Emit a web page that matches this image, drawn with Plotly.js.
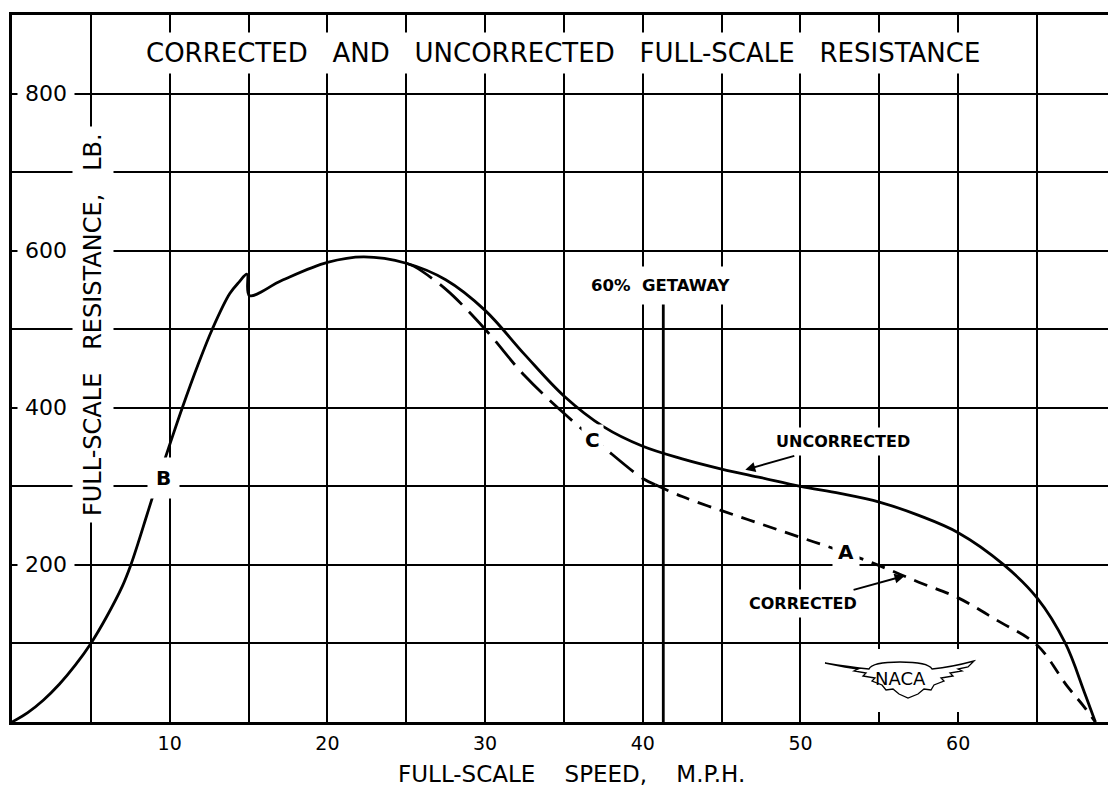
<!DOCTYPE html>
<html>
<head>
<meta charset="utf-8">
<script src="https://cdn.plot.ly/plotly-3.0.1.min.js"></script>
<style>
html,body{margin:0;padding:0;background:#fff;}
#chart{width:1108px;height:789px;}
</style>
</head>
<body>
<div id="chart"></div>
<script>
// ---- data ----
const uncorrectedSpeed = [0, 1, 2, 3, 4, 5, 6, 7, 7.5, 8, 8.5, 9, 9.5, 10, 10.8, 11.8, 12.7, 13.8, 14.4, 14.9, 15.05, 17.1, 20, 22.3, 25, 27.5, 30, 32.5, 35, 37.5, 40, 42.5, 45, 47.5, 50, 52.5, 55, 57.5, 60, 62.9, 65, 66.8, 68, 68.7];
const uncorrectedResistance = [0, 12, 28, 48, 72, 100, 134, 173, 198, 228, 260, 292, 323, 353, 400, 455, 500, 545, 560, 570, 543, 562, 585, 592, 584, 563, 524, 468, 415, 376, 351, 335, 322, 311, 300, 291, 280, 263, 241, 200, 158, 100, 38, 0];

const correctedSpeed = [25, 25.5, 27.5, 30, 32.5, 35, 37.5, 40, 40.8, 42.5, 45, 47.5, 50, 52.5, 55, 57.5, 60, 62.5, 65, 66.9, 68, 68.7];
const correctedResistance = [584, 580, 551, 500, 441, 393, 350, 310, 302, 287, 269, 252, 235, 218, 199, 178, 158, 129, 98, 46, 19, 0];

const getawaySpeed = [41.3, 41.3];
const getawayResistance = [0, 535];

const xGridSpeeds = [5, 10, 15, 20, 25, 30, 35, 40, 45, 50, 55, 60, 65];
const xTickLabels = ['', '10', '', '20', '', '30', '', '40', '', '50', '', '60', ''];
const yGridValues = [100, 200, 300, 400, 500, 600, 700, 800];
const yLabelValues = [200, 400, 600, 800];
const yLabelText = ['200', '400', '600', '800'];

// ---- geometry / style ----
const L = 12, T = 15, W = 1096, H = 707;
const X_RANGE = [0, 69.5], Y_RANGE = [0, 900];
const px2paperX = px => (px - L) / W;
const px2paperY = py => (T + H - py) / H;
const FAM = '"DejaVu Sans", "Liberation Sans", sans-serif';
const INK = '#000';
const NB = n => '\u00A0'.repeat(n);

// split corrected curve at the getaway speed (long dashes before, short after)
const splitIdx = correctedSpeed.findIndex(s => s > getawaySpeed[0]);
const corr1X = correctedSpeed.slice(0, splitIdx), corr1Y = correctedResistance.slice(0, splitIdx);
const corr2X = correctedSpeed.slice(splitIdx - 1), corr2Y = correctedResistance.slice(splitIdx - 1);

const LW = 2.8;
const traces = [
  {x: uncorrectedSpeed, y: uncorrectedResistance, type: 'scatter', mode: 'lines',
   line: {color: INK, width: LW, shape: 'spline', smoothing: 1}, hoverinfo: 'skip'},
  {x: corr1X, y: corr1Y, type: 'scatter', mode: 'lines',
   line: {color: INK, width: LW, shape: 'spline', smoothing: 1, dash: '30px,10px'}, hoverinfo: 'skip'},
  {x: corr2X, y: corr2Y, type: 'scatter', mode: 'lines',
   line: {color: INK, width: LW, shape: 'spline', smoothing: 1, dash: '14px,9px'}, hoverinfo: 'skip'},
  {x: getawaySpeed, y: getawayResistance, type: 'scatter', mode: 'lines',
   line: {color: INK, width: LW}, hoverinfo: 'skip'}
];

const annotations = [];
const C = {xanchor: 'center', yanchor: 'middle', showarrow: false};
// title inside the plot
annotations.push(Object.assign({xref: 'paper', yref: 'paper', x: px2paperX(563), y: px2paperY(53),
  text: ['CORRECTED', 'AND', 'UNCORRECTED', 'FULL-SCALE', 'RESISTANCE'].join(NB(3)),
  font: {family: FAM, size: 26, color: INK}, bgcolor: '#fff', borderpad: 5}, C));
// y tick labels (inside, white boxes break the grid)
yLabelValues.forEach((v, i) => annotations.push(Object.assign({xref: 'paper', yref: 'y', x: px2paperX(46), y: v,
  text: yLabelText[i], font: {family: FAM, size: 22, color: INK},
  bgcolor: '#fff', borderpad: 7}, C)));
// y title
annotations.push(Object.assign({xref: 'paper', yref: 'paper', x: px2paperX(93), y: px2paperY(325), textangle: -90,
  text: ['FULL-SCALE', 'RESISTANCE,', 'LB.'].join(NB(3)),
  font: {family: FAM, size: 24, color: INK}, bgcolor: '#fff', borderpad: 6}, C));
// x title
annotations.push(Object.assign({xref: 'paper', yref: 'paper', x: px2paperX(571), y: px2paperY(774),
  text: ['FULL-SCALE', 'SPEED,', 'M.P.H.'].join(NB(4)),
  font: {family: FAM, size: 23, color: INK}}, C));
// curve letters
const bold = (s) => ({family: FAM, size: s, color: INK, weight: 700});
annotations.push(Object.assign({xref: 'x', yref: 'y', x: 9.6, y: 311, text: 'B', font: bold(20), bgcolor: '#fff', borderpad: 8}, C));
annotations.push(Object.assign({xref: 'x', yref: 'y', x: 36.8, y: 359, text: 'C', font: bold(20), bgcolor: '#fff', borderpad: 3}, C));
annotations.push(Object.assign({xref: 'x', yref: 'y', x: 52.9, y: 216, text: 'A', font: bold(20), bgcolor: '#fff', borderpad: 5}, C));
// getaway label
annotations.push(Object.assign({xref: 'x', yref: 'y', x: 41.15, y: 556, text: '60%' + NB(2) + 'GETAWAY',
  font: bold(16.5), bgcolor: '#fff', borderpad: 9}, C));
// curve names with arrows
annotations.push({xref: 'x', yref: 'y', x: 46.5, y: 321, ax: 98, ay: -28, text: 'UNCORRECTED',
  showarrow: true, arrowhead: 2, arrowsize: 1, arrowwidth: 2, arrowcolor: INK,
  font: bold(16), bgcolor: '#fff', borderpad: 4});
annotations.push({xref: 'x', yref: 'y', x: 56.6, y: 186, ax: -102, ay: 28, text: 'CORRECTED',
  showarrow: true, arrowhead: 2, arrowsize: 1, arrowwidth: 2, arrowcolor: INK,
  font: bold(16), bgcolor: '#fff', borderpad: 4});
// NACA logo text
annotations.push(Object.assign({xref: 'paper', yref: 'paper', x: px2paperX(900), y: px2paperY(678), text: 'NACA',
  font: {family: FAM, size: 18, color: INK}}, C));

// NACA wing emblem (decoration), pixel outline converted to paper units
const wingPts = [
  ['M', 825, 663], ['Q', 850, 667, 869, 669], ['Q', 872, 662, 900, 662], ['Q', 928, 662, 932, 669],
  ['Q', 952, 667, 974, 661],
  ['L', 968, 667], ['L', 958, 669], ['L', 962, 671], ['L', 950, 673], ['L', 953, 676], ['L', 941, 678],
  ['L', 944, 681], ['L', 934, 685], ['L', 931, 690], ['L', 924, 689], ['L', 918, 694], ['L', 908, 698],
  ['L', 899, 694], ['L', 893, 689], ['L', 886, 690], ['L', 882, 685], ['L', 872, 681], ['L', 875, 678],
  ['L', 863, 676], ['L', 866, 673], ['L', 854, 671], ['L', 858, 669], ['L', 845, 667]
];
const wingPath = wingPts.map(p => {
  const c = p.slice(1); const out = [];
  for (let i = 0; i < c.length; i += 2) out.push(px2paperX(c[i]).toFixed(5) + ',' + px2paperY(c[i + 1]).toFixed(5));
  return p[0] + out.join(' ');
}).join(' ') + ' Z';

const shapes = [
  {type: 'rect', xref: 'paper', yref: 'paper', x0: px2paperX(820), x1: px2paperX(976), y0: px2paperY(712), y1: px2paperY(649),
   fillcolor: '#fff', line: {width: 0}, layer: 'above'},
  {type: 'path', xref: 'paper', yref: 'paper', path: wingPath, fillcolor: '#fff',
   line: {color: INK, width: 1.3}, layer: 'above'}
];

const layout = {
  width: 1108, height: 789,
  margin: {l: L, r: 1108 - L - W, t: T, b: 789 - T - H, pad: 0},
  paper_bgcolor: '#fff', plot_bgcolor: '#fff',
  showlegend: false,
  font: {family: FAM, color: INK},
  xaxis: {
    range: X_RANGE, tickmode: 'array', tickvals: xGridSpeeds, ticktext: xTickLabels,
    showgrid: true, gridcolor: INK, gridwidth: 2, zeroline: false,
    showline: true, linecolor: INK, linewidth: 3, mirror: true,
    ticks: '', ticklabelstandoff: 2, tickfont: {family: FAM, size: 19, color: INK},
    automargin: false, fixedrange: true
  },
  yaxis: {
    range: Y_RANGE, tickmode: 'array', tickvals: yGridValues, showticklabels: false,
    showgrid: true, gridcolor: INK, gridwidth: 2, zeroline: false,
    showline: true, linecolor: INK, linewidth: 3, mirror: false,
    ticks: '', automargin: false, fixedrange: true
  },
  annotations: annotations,
  shapes: shapes
};

Plotly.newPlot('chart', traces, layout, {displayModeBar: false, staticPlot: true});
</script>
</body>
</html>
